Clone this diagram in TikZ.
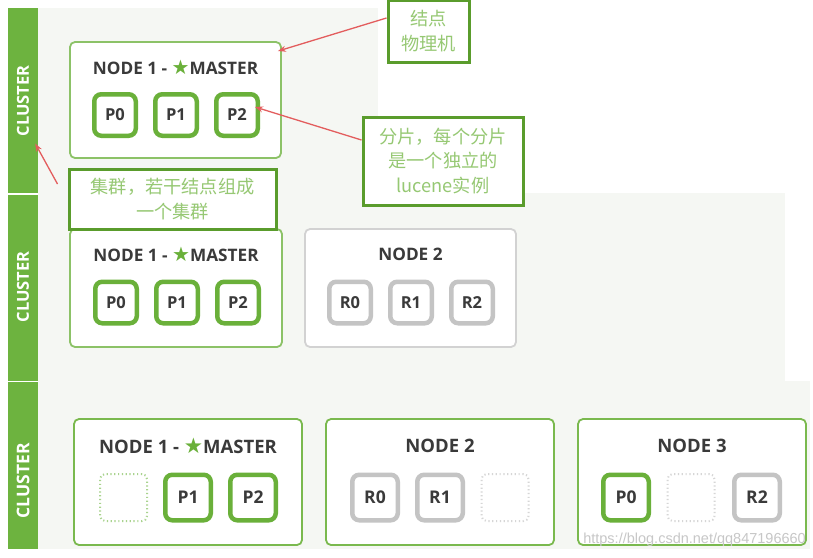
\documentclass[tikz,border=0pt]{standalone}
\usepackage{fontspec}
\newfontfamily\osans{Open Sans}
\newfontfamily\cjk{Noto Sans CJK SC}
\newfontfamily\djv{DejaVu Sans}
\newfontfamily\lsans{Liberation Sans}
\usetikzlibrary{arrows.meta,shadows}
\definecolor{bargreen}{HTML}{6DB33F}
\definecolor{panelbg}{HTML}{F5F7F3}
\definecolor{boxlight}{HTML}{8CC267}
\definecolor{boxgreen}{HTML}{7AB94E}
\definecolor{boxgray}{HTML}{D2D2D2}
\definecolor{shardgreen}{HTML}{6AB03A}
\definecolor{shardgray}{HTML}{C4C4C4}
\definecolor{dotgreen}{HTML}{A9D38E}
\definecolor{dotgray}{HTML}{D6D6D6}
\definecolor{textdark}{HTML}{3A3A3A}
\definecolor{callborder}{HTML}{5A9C2C}
\definecolor{calltext}{HTML}{96C873}
\definecolor{redline}{HTML}{E35D5D}
\newcommand{\mstar}[1]{{\djv\color{shardgreen}\fontsize{#1}{#1}\selectfont ★}}
\tikzset{
  barbox/.style={rectangle, fill=bargreen, draw=none, inner sep=0pt},
  clusterlbl/.style={rotate=90, text=white, font=\osans\bfseries\fontsize{#1}{#1}\selectfont, inner sep=0pt},
  nodebox/.style={rectangle, draw=#1, line width=1.8pt, rounded corners=5pt, fill=white, inner sep=0pt},
  titlelbl/.style={text=textdark, font=\osans\bfseries\fontsize{#1}{#1}\selectfont, inner sep=0pt},
  shardbox/.style={rectangle, draw=#1, line width=4.5pt, rounded corners=7pt, fill=white, inner sep=0pt, text=textdark, font=\osans\bfseries\fontsize{16.5}{16.5}\selectfont},
  smallshard/.style={minimum width=41.5pt, minimum height=41.5pt},
  bigshard/.style={minimum width=45.5pt, minimum height=45.5pt, font=\osans\bfseries\fontsize{17.5}{17.5}\selectfont},
  emptyshard/.style={rectangle, draw=#1, line width=2pt, dash pattern=on 1.2pt off 2.6pt, rounded corners=5pt, fill=white, inner sep=0pt, minimum width=47pt, minimum height=47pt},
  callout/.style={rectangle, draw=callborder, line width=3pt, fill=white, drop shadow={shadow xshift=2pt, shadow yshift=-2pt, opacity=0.25}, text=calltext, font=\cjk\fontsize{18.2}{24.5}\selectfont, align=center, inner sep=0pt},
  redarrow/.style={draw=redline, line width=1.3pt, -{Stealth[length=8pt,width=6pt]}}
}
\begin{document}
\begin{tikzpicture}[x=1pt,y=-1pt]
\useasboundingbox (0,0) rectangle (813,557);
\fill[white] (0,0) rectangle (813,557);
% panel backgrounds
\fill[panelbg] (38,8) rectangle (378,193);
\fill[panelbg] (38,193) rectangle (785,381);
\fill[panelbg] (38,381) rectangle (810,549);
% green bars
\node[barbox, minimum width=30pt, minimum height=185pt] (bar1) at (23,100.5) {};
\node[barbox, minimum width=30pt, minimum height=186pt] (bar2) at (23,287.5) {};
\node[barbox, minimum width=30pt, minimum height=167pt] (bar3) at (23,465) {};
\node[clusterlbl=16.5] (cl1) at (23,101) {CLUSTER};
\node[clusterlbl=16.5] (cl2) at (23,287) {CLUSTER};
\node[clusterlbl=17.5] (cl3) at (23,481) {CLUSTER};

% panel 1
\node[nodebox=boxlight, minimum width=211pt, minimum height=116pt] (n1a) at (175.5,100) {};
\node[titlelbl=17.2] (t1a) at (175.5,67) {NODE 1 - \mstar{20}MASTER};
\node[shardbox=shardgreen, smallshard] (p0a) at (115,115) {P0};
\node[shardbox=shardgreen, smallshard] (p1a) at (176,115) {P1};
\node[shardbox=shardgreen, smallshard] (p2a) at (237,115) {P2};

% panel 2
\node[nodebox=boxlight, minimum width=212pt, minimum height=118pt] (n1b) at (176,288) {};
\node[titlelbl=17.2] (t1b) at (176,254) {NODE 1 - \mstar{20}MASTER};
\node[shardbox=shardgreen, smallshard] (p0b) at (116,302.5) {P0};
\node[shardbox=shardgreen, smallshard] (p1b) at (177,302.5) {P1};
\node[shardbox=shardgreen, smallshard] (p2b) at (238,302.5) {P2};
\node[nodebox=boxgray, minimum width=211pt, minimum height=118pt] (n2b) at (410.5,288) {};
\node[titlelbl=17.2] (t2b) at (410.5,254) {NODE 2};
\node[shardbox=shardgray, smallshard] (r0b) at (350,302.5) {R0};
\node[shardbox=shardgray, smallshard] (r1b) at (411,302.5) {R1};
\node[shardbox=shardgray, smallshard] (r2b) at (472,302.5) {R2};

% panel 3
\node[nodebox=boxgreen, minimum width=228pt, minimum height=126pt] (n1c) at (188,482) {};
\node[titlelbl=18.5] (t1c) at (188,446) {NODE 1 - \mstar{21.5}MASTER};
\node[emptyshard=dotgreen] (e0c) at (123.5,497.5) {};
\node[shardbox=shardgreen, bigshard] (p1c) at (188,497.5) {P1};
\node[shardbox=shardgreen, bigshard] (p2c) at (253,497.5) {P2};

\node[nodebox=boxgreen, minimum width=228pt, minimum height=126pt] (n2c) at (440,482) {};
\node[titlelbl=18.5] (t2c) at (440,446) {NODE 2};
\node[shardbox=shardgray, bigshard] (r0c) at (375,497.5) {R0};
\node[shardbox=shardgray, bigshard] (r1c) at (440,497.5) {R1};
\node[emptyshard=dotgray] (e2c) at (505,497.5) {};

\node[nodebox=boxgreen, minimum width=228pt, minimum height=126pt] (n3c) at (692,482) {};
\node[titlelbl=18.5] (t3c) at (692,446) {NODE 3};
\node[shardbox=shardgreen, bigshard] (p0c) at (626,497.5) {P0};
\node[emptyshard=dotgray] (e1c) at (691,497.5) {};
\node[shardbox=shardgray, bigshard] (r2c) at (757,497.5) {R2};

% callouts
\node[callout, minimum width=81pt, minimum height=62pt] (c1) at (428.5,31) {结点\\物理机};
\node[callout, minimum width=160pt, minimum height=88pt] (c2) at (443,161) {分片，每个分片\\是一个独立的\\lucene实例};
\node[callout, minimum width=207pt, minimum height=60pt] (c3) at (172.5,199) {集群，若干结点组成\\一个集群};

% arrows
\draw[redarrow] ([yshift=13pt]c1.west) -- ([shift={(-4,10)}]n1a.north east);
\draw[redarrow] ([yshift=21pt]c2.west) -- ([shift={(-5,-8)}]p2a.east);
\draw[redarrow] ([shift={(-10,-15)}]c3.west) -- ([shift={(-3,43)}]bar1.east);

% watermark
\node[font=\lsans\fontsize{14.5}{14.5}\selectfont, text=black!22, anchor=east, inner sep=0pt] (wm) at (806,540) {https://blog.csdn.net/qq847196660};
\end{tikzpicture}
\end{document}
